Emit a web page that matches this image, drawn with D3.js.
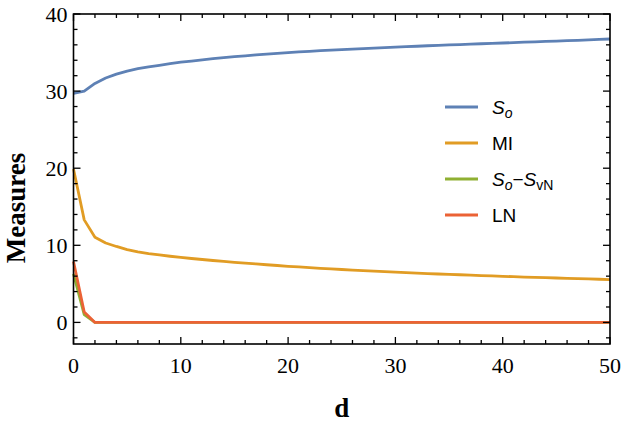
<!DOCTYPE html>
<html><head><meta charset="utf-8">
<script src="https://cdn.jsdelivr.net/npm/d3@7"></script>
<style>body{margin:0;background:#fff}svg{display:block}
.serif{font-family:"Liberation Serif","Times New Roman",serif}
.sans{font-family:"Liberation Sans",Arial,sans-serif}</style>
</head><body>
<svg id="c" width="625" height="424"></svg>
<script>
const dValues = d3.range(0, 51);
const So = [29.7,30.0,31.0,31.7,32.2,32.6,32.9,33.15,33.35,33.55,33.75,33.9,34.05,34.2,34.35,34.47,34.58,34.69,34.8,34.9,35.0,35.08,35.16,35.24,35.31,35.38,35.45,35.52,35.58,35.64,35.7,35.76,35.82,35.88,35.94,35.99,36.04,36.09,36.14,36.19,36.24,36.29,36.34,36.39,36.44,36.49,36.54,36.59,36.64,36.7,36.76];
const MI = [19.9,13.3,11.05,10.3,9.85,9.45,9.15,8.93,8.75,8.58,8.43,8.29,8.16,8.03,7.91,7.8,7.69,7.58,7.48,7.38,7.28,7.19,7.1,7.02,6.94,6.86,6.79,6.72,6.65,6.58,6.52,6.46,6.4,6.34,6.28,6.23,6.18,6.13,6.08,6.03,5.98,5.93,5.88,5.84,5.8,5.76,5.72,5.68,5.64,5.6,5.56];
const SoMinusSvN = [6.3,1.0,0,0,0,0,0,0,0,0,0,0,0,0,0,0,0,0,0,0,0,0,0,0,0,0,0,0,0,0,0,0,0,0,0,0,0,0,0,0,0,0,0,0,0,0,0,0,0,0,0];
const LN = [7.9,1.35,0,0,0,0,0,0,0,0,0,0,0,0,0,0,0,0,0,0,0,0,0,0,0,0,0,0,0,0,0,0,0,0,0,0,0,0,0,0,0,0,0,0,0,0,0,0,0,0,0];
const xTicks = [0,10,20,30,40,50];
const yTicks = [0,10,20,30,40];
const colors = ["#5E81B5","#E19C24","#8FB032","#EB6235"];

const svg = d3.select("#c");
const L = 73.5, R = 610, T = 14, B = 344;
const x = d3.scaleLinear().domain([0,50]).range([L,R]);
const y = d3.scaleLinear().domain([-2.8,40]).range([B,T]);

const series = [So, MI, SoMinusSvN, LN];
const line = d3.line().x((d,i)=>x(dValues[i])).y(d=>y(d));
const g = svg.append("g");
series.forEach((s,k)=>{
  g.append("path").datum(s).attr("d",line).attr("fill","none")
   .attr("stroke",colors[k]).attr("stroke-width",2.8).attr("stroke-linejoin","round");
});

const minorX = d3.range(0,51,2), minorY = d3.range(-2,41,2);
const f = svg.append("g");
minorX.forEach(v=>{ if(v%10){
  f.append("line").attr("x1",x(v)).attr("x2",x(v)).attr("y1",B).attr("y2",B-4);
  f.append("line").attr("x1",x(v)).attr("x2",x(v)).attr("y1",T).attr("y2",T+4);
}});
minorY.forEach(v=>{ if(v%10){
  f.append("line").attr("y1",y(v)).attr("y2",y(v)).attr("x1",L).attr("x2",L+4);
  f.append("line").attr("y1",y(v)).attr("y2",y(v)).attr("x1",R).attr("x2",R-4);
}});
xTicks.forEach(v=>{
  f.append("line").attr("x1",x(v)).attr("x2",x(v)).attr("y1",B).attr("y2",B-7);
  f.append("line").attr("x1",x(v)).attr("x2",x(v)).attr("y1",T).attr("y2",T+7);
});
yTicks.forEach(v=>{
  f.append("line").attr("y1",y(v)).attr("y2",y(v)).attr("x1",L).attr("x2",L+7);
  f.append("line").attr("y1",y(v)).attr("y2",y(v)).attr("x1",R).attr("x2",R-7);
});
f.selectAll("line").attr("stroke","#000").attr("stroke-width",1.3);
f.append("rect").attr("x",L).attr("y",T).attr("width",R-L).attr("height",B-T)
 .attr("fill","none").attr("stroke","#000").attr("stroke-width",1.6);

svg.append("g").selectAll("text").data(xTicks).join("text").attr("class","serif")
  .attr("x",d=>x(d)).attr("y",B+29).attr("text-anchor","middle")
  .attr("font-size",22).text(d=>d);
svg.append("g").selectAll("text").data(yTicks).join("text").attr("class","serif")
  .attr("x",L-6).attr("y",d=>y(d)+7.5).attr("text-anchor","end")
  .attr("font-size",22).text(d=>d);

svg.append("text").attr("class","serif").attr("x",(L+R)/2).attr("y",417).attr("text-anchor","middle")
  .attr("font-weight","bold").attr("font-size",27).text("d");
svg.append("text").attr("class","serif").attr("transform","translate(25,208) rotate(-90)").attr("text-anchor","middle")
  .attr("font-weight","bold").attr("font-size",27).text("Measures");

const legY = [107,143,179,215];
const leg = svg.append("g");
legY.forEach((yy,k)=>{
  leg.append("line").attr("x1",445).attr("x2",478).attr("y1",yy).attr("y2",yy)
    .attr("stroke",colors[k]).attr("stroke-width",2.8);
});
function txt(yy){ return leg.append("text").attr("class","sans").attr("x",492).attr("y",yy+7).attr("font-size",19); }
let t = txt(legY[0]);
t.append("tspan").attr("font-style","italic").text("S");
t.append("tspan").attr("font-style","italic").attr("font-size",14).attr("dy",4).text("o");
txt(legY[1]).text("MI");
t = txt(legY[2]);
t.append("tspan").attr("font-style","italic").text("S");
t.append("tspan").attr("font-style","italic").attr("font-size",14).attr("dy",4).text("o");
t.append("tspan").attr("dy",-4).text("\u2212");
t.append("tspan").attr("font-style","italic").text("S");
t.append("tspan").attr("font-size",14).attr("dy",4).text("vN");
txt(legY[3]).text("LN");
</script>
</body></html>
